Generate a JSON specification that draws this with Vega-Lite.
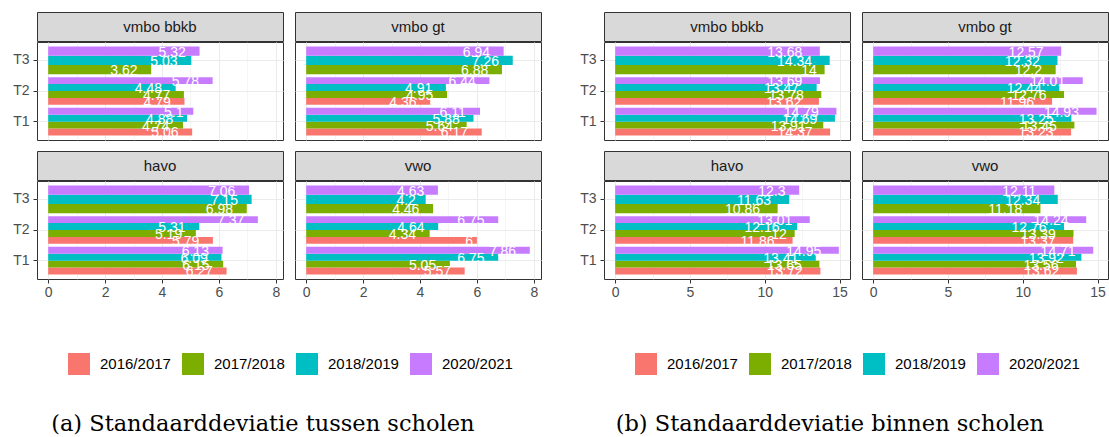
{
"$schema":"https://vega.github.io/schema/vega-lite/v6.json",
"padding":{"left":12,"top":11,"right":0,"bottom":0},
"background":"white",
"datasets":{
"a":[
{"s":"vmbo bbkb","t":"T1","yr":"2016/2017","v":5.06},{"s":"vmbo bbkb","t":"T1","yr":"2017/2018","v":4.74},{"s":"vmbo bbkb","t":"T1","yr":"2018/2019","v":4.88},{"s":"vmbo bbkb","t":"T1","yr":"2020/2021","v":5.1},
{"s":"vmbo bbkb","t":"T2","yr":"2016/2017","v":4.79},{"s":"vmbo bbkb","t":"T2","yr":"2017/2018","v":4.77},{"s":"vmbo bbkb","t":"T2","yr":"2018/2019","v":4.48},{"s":"vmbo bbkb","t":"T2","yr":"2020/2021","v":5.78},
{"s":"vmbo bbkb","t":"T3","yr":"2017/2018","v":3.62},{"s":"vmbo bbkb","t":"T3","yr":"2018/2019","v":5.03},{"s":"vmbo bbkb","t":"T3","yr":"2020/2021","v":5.32},
{"s":"vmbo gt","t":"T1","yr":"2016/2017","v":6.17},{"s":"vmbo gt","t":"T1","yr":"2017/2018","v":5.64},{"s":"vmbo gt","t":"T1","yr":"2018/2019","v":5.88},{"s":"vmbo gt","t":"T1","yr":"2020/2021","v":6.11},
{"s":"vmbo gt","t":"T2","yr":"2016/2017","v":4.36},{"s":"vmbo gt","t":"T2","yr":"2017/2018","v":4.95},{"s":"vmbo gt","t":"T2","yr":"2018/2019","v":4.91},{"s":"vmbo gt","t":"T2","yr":"2020/2021","v":6.44},
{"s":"vmbo gt","t":"T3","yr":"2017/2018","v":6.88},{"s":"vmbo gt","t":"T3","yr":"2018/2019","v":7.26},{"s":"vmbo gt","t":"T3","yr":"2020/2021","v":6.94},
{"s":"havo","t":"T1","yr":"2016/2017","v":6.27},{"s":"havo","t":"T1","yr":"2017/2018","v":6.15},{"s":"havo","t":"T1","yr":"2018/2019","v":6.09},{"s":"havo","t":"T1","yr":"2020/2021","v":6.13},
{"s":"havo","t":"T2","yr":"2016/2017","v":5.79},{"s":"havo","t":"T2","yr":"2017/2018","v":5.19},{"s":"havo","t":"T2","yr":"2018/2019","v":5.31},{"s":"havo","t":"T2","yr":"2020/2021","v":7.37},
{"s":"havo","t":"T3","yr":"2017/2018","v":6.98},{"s":"havo","t":"T3","yr":"2018/2019","v":7.15},{"s":"havo","t":"T3","yr":"2020/2021","v":7.06},
{"s":"vwo","t":"T1","yr":"2016/2017","v":5.57},{"s":"vwo","t":"T1","yr":"2017/2018","v":5.05},{"s":"vwo","t":"T1","yr":"2018/2019","v":6.75},{"s":"vwo","t":"T1","yr":"2020/2021","v":7.86},
{"s":"vwo","t":"T2","yr":"2016/2017","v":6},{"s":"vwo","t":"T2","yr":"2017/2018","v":4.34},{"s":"vwo","t":"T2","yr":"2018/2019","v":4.64},{"s":"vwo","t":"T2","yr":"2020/2021","v":6.75},
{"s":"vwo","t":"T3","yr":"2017/2018","v":4.46},{"s":"vwo","t":"T3","yr":"2018/2019","v":4.2},{"s":"vwo","t":"T3","yr":"2020/2021","v":4.63}
],
"b":[
{"s":"vmbo bbkb","t":"T1","yr":"2016/2017","v":14.37},{"s":"vmbo bbkb","t":"T1","yr":"2017/2018","v":13.91},{"s":"vmbo bbkb","t":"T1","yr":"2018/2019","v":14.69},{"s":"vmbo bbkb","t":"T1","yr":"2020/2021","v":14.79},
{"s":"vmbo bbkb","t":"T2","yr":"2016/2017","v":13.62},{"s":"vmbo bbkb","t":"T2","yr":"2017/2018","v":13.78},{"s":"vmbo bbkb","t":"T2","yr":"2018/2019","v":13.47},{"s":"vmbo bbkb","t":"T2","yr":"2020/2021","v":13.69},
{"s":"vmbo bbkb","t":"T3","yr":"2017/2018","v":14},{"s":"vmbo bbkb","t":"T3","yr":"2018/2019","v":14.34},{"s":"vmbo bbkb","t":"T3","yr":"2020/2021","v":13.68},
{"s":"vmbo gt","t":"T1","yr":"2016/2017","v":13.23},{"s":"vmbo gt","t":"T1","yr":"2017/2018","v":13.45},{"s":"vmbo gt","t":"T1","yr":"2018/2019","v":13.25},{"s":"vmbo gt","t":"T1","yr":"2020/2021","v":14.93},
{"s":"vmbo gt","t":"T2","yr":"2016/2017","v":11.96},{"s":"vmbo gt","t":"T2","yr":"2017/2018","v":12.76},{"s":"vmbo gt","t":"T2","yr":"2018/2019","v":12.44},{"s":"vmbo gt","t":"T2","yr":"2020/2021","v":14.01},
{"s":"vmbo gt","t":"T3","yr":"2017/2018","v":12.2},{"s":"vmbo gt","t":"T3","yr":"2018/2019","v":12.32},{"s":"vmbo gt","t":"T3","yr":"2020/2021","v":12.57},
{"s":"havo","t":"T1","yr":"2016/2017","v":13.72},{"s":"havo","t":"T1","yr":"2017/2018","v":13.65},{"s":"havo","t":"T1","yr":"2018/2019","v":13.41},{"s":"havo","t":"T1","yr":"2020/2021","v":14.95},
{"s":"havo","t":"T2","yr":"2016/2017","v":11.86},{"s":"havo","t":"T2","yr":"2017/2018","v":12},{"s":"havo","t":"T2","yr":"2018/2019","v":12.16},{"s":"havo","t":"T2","yr":"2020/2021","v":13.01},
{"s":"havo","t":"T3","yr":"2017/2018","v":10.86},{"s":"havo","t":"T3","yr":"2018/2019","v":11.63},{"s":"havo","t":"T3","yr":"2020/2021","v":12.3},
{"s":"vwo","t":"T1","yr":"2016/2017","v":13.62},{"s":"vwo","t":"T1","yr":"2017/2018","v":13.56},{"s":"vwo","t":"T1","yr":"2018/2019","v":13.92},{"s":"vwo","t":"T1","yr":"2020/2021","v":14.71},
{"s":"vwo","t":"T2","yr":"2016/2017","v":13.37},{"s":"vwo","t":"T2","yr":"2017/2018","v":13.39},{"s":"vwo","t":"T2","yr":"2018/2019","v":12.76},{"s":"vwo","t":"T2","yr":"2020/2021","v":14.24},
{"s":"vwo","t":"T3","yr":"2017/2018","v":11.18},{"s":"vwo","t":"T3","yr":"2018/2019","v":12.34},{"s":"vwo","t":"T3","yr":"2020/2021","v":12.11}
]
},
"hconcat":[
{"title":{"text":"(a) Standaarddeviatie tussen scholen","orient":"bottom","anchor":"middle","font":"DejaVu Serif","fontSize":22.5,"fontWeight":"normal","color":"black","offset":38,"dx":-14},
 "spacing":9,
 "vconcat":[
  {"spacing":10,"hconcat":[
   {"spacing":-1,"vconcat":[
    {"data":{"values":[{"s":"vmbo bbkb"}]},"width":246,"height":29,"view":{"fill":"#d9d9d9","stroke":"#333333"},"mark":{"type":"text","font":"Liberation Sans","fontSize":15,"color":"#1a1a1a"},"encoding":{"text":{"field":"s","type":"nominal"}}},
    {"data":{"name":"a"},"transform":[{"filter":"datum.s == 'vmbo bbkb'"}],"width":246,"height":98,"view":{"stroke":"#333333"},
     "encoding":{
      "y":{"field":"t","type":"nominal","title":null,"scale":{"domain":["T3","T2","T1"],"paddingInner":0.1,"paddingOuter":0.15},"axis":{"grid":true,"domain":false,"bandPosition":0.5,"labelPadding":4}},
      "x":{"field":"v","type":"quantitative","title":null,"scale":{"domain":[-0.393,8.253],"nice":false,"zero":false},"axis":{"values":[0,1,2,3,4,5,6,7,8],"labels":false,"ticks":false,"grid":true,"domain":false,"gridWidth":{"condition":{"test":"datum.value % 2 != 0","value":0.5},"value":1}}},
      "color":{"field":"yr","type":"nominal","title":null,"scale":{"domain":["2016/2017","2017/2018","2018/2019","2020/2021"],"range":["#F8766D","#7CAE00","#00BFC4","#C77CFF"]}}},
     "layer":[
      {"transform":[{"filter":"datum.t != 'T3'"}],"encoding":{"yOffset":{"field":"yr","type":"nominal","scale":{"domain":["2020/2021","2018/2019","2017/2018","2016/2017"],"paddingInner":0,"paddingOuter":0}}},
       "layer":[{"mark":"bar","encoding":{"x2":{"datum":0}}},{"mark":{"type":"text","align":"center","baseline":"middle","dy":1.5,"font":"Liberation Sans","fontSize":14,"clip":true,"dx":{"expr":"-(length(toString(datum.v)) - (indexof(toString(datum.v), '.') >= 0 ? 0.5 : 0)) * 7.8"}},"encoding":{"text":{"field":"v","type":"nominal"},"color":{"value":"white"}}}]},
      {"transform":[{"filter":"datum.t == 'T3'"}],"encoding":{"yOffset":{"field":"yr","type":"nominal","scale":{"domain":["2020/2021","2018/2019","2017/2018"],"paddingInner":0,"paddingOuter":0}}},
       "layer":[{"mark":"bar","encoding":{"x2":{"datum":0}}},{"mark":{"type":"text","align":"center","baseline":"middle","dy":1.5,"font":"Liberation Sans","fontSize":14,"clip":true,"dx":{"expr":"-(length(toString(datum.v)) - (indexof(toString(datum.v), '.') >= 0 ? 0.5 : 0)) * 7.8"}},"encoding":{"text":{"field":"v","type":"nominal"},"color":{"value":"white"}}}]}
     ],
     "resolve":{"scale":{"yOffset":"independent"}}}
   ]},
   {"spacing":-1,"vconcat":[
    {"data":{"values":[{"s":"vmbo gt"}]},"width":246,"height":29,"view":{"fill":"#d9d9d9","stroke":"#333333"},"mark":{"type":"text","font":"Liberation Sans","fontSize":15,"color":"#1a1a1a"},"encoding":{"text":{"field":"s","type":"nominal"}}},
    {"data":{"name":"a"},"transform":[{"filter":"datum.s == 'vmbo gt'"}],"width":246,"height":98,"view":{"stroke":"#333333"},
     "encoding":{
      "y":{"field":"t","type":"nominal","title":null,"scale":{"domain":["T3","T2","T1"],"paddingInner":0.1,"paddingOuter":0.15},"axis":{"grid":true,"domain":false,"bandPosition":0.5,"labels":false,"ticks":false}},
      "x":{"field":"v","type":"quantitative","title":null,"scale":{"domain":[-0.393,8.253],"nice":false,"zero":false},"axis":{"values":[0,1,2,3,4,5,6,7,8],"labels":false,"ticks":false,"grid":true,"domain":false,"gridWidth":{"condition":{"test":"datum.value % 2 != 0","value":0.5},"value":1}}},
      "color":{"field":"yr","type":"nominal","title":null,"scale":{"domain":["2016/2017","2017/2018","2018/2019","2020/2021"],"range":["#F8766D","#7CAE00","#00BFC4","#C77CFF"]}}},
     "layer":[
      {"transform":[{"filter":"datum.t != 'T3'"}],"encoding":{"yOffset":{"field":"yr","type":"nominal","scale":{"domain":["2020/2021","2018/2019","2017/2018","2016/2017"],"paddingInner":0,"paddingOuter":0}}},
       "layer":[{"mark":"bar","encoding":{"x2":{"datum":0}}},{"mark":{"type":"text","align":"center","baseline":"middle","dy":1.5,"font":"Liberation Sans","fontSize":14,"clip":true,"dx":{"expr":"-(length(toString(datum.v)) - (indexof(toString(datum.v), '.') >= 0 ? 0.5 : 0)) * 7.8"}},"encoding":{"text":{"field":"v","type":"nominal"},"color":{"value":"white"}}}]},
      {"transform":[{"filter":"datum.t == 'T3'"}],"encoding":{"yOffset":{"field":"yr","type":"nominal","scale":{"domain":["2020/2021","2018/2019","2017/2018"],"paddingInner":0,"paddingOuter":0}}},
       "layer":[{"mark":"bar","encoding":{"x2":{"datum":0}}},{"mark":{"type":"text","align":"center","baseline":"middle","dy":1.5,"font":"Liberation Sans","fontSize":14,"clip":true,"dx":{"expr":"-(length(toString(datum.v)) - (indexof(toString(datum.v), '.') >= 0 ? 0.5 : 0)) * 7.8"}},"encoding":{"text":{"field":"v","type":"nominal"},"color":{"value":"white"}}}]}
     ],
     "resolve":{"scale":{"yOffset":"independent"}}}
   ]}
  ]},
  {"spacing":10,"hconcat":[
   {"spacing":-1,"vconcat":[
    {"data":{"values":[{"s":"havo"}]},"width":246,"height":29,"view":{"fill":"#d9d9d9","stroke":"#333333"},"mark":{"type":"text","font":"Liberation Sans","fontSize":15,"color":"#1a1a1a"},"encoding":{"text":{"field":"s","type":"nominal"}}},
    {"data":{"name":"a"},"transform":[{"filter":"datum.s == 'havo'"}],"width":246,"height":98,"view":{"stroke":"#333333"},
     "encoding":{
      "y":{"field":"t","type":"nominal","title":null,"scale":{"domain":["T3","T2","T1"],"paddingInner":0.1,"paddingOuter":0.15},"axis":{"grid":true,"domain":false,"bandPosition":0.5,"labelPadding":4}},
      "x":{"field":"v","type":"quantitative","title":null,"scale":{"domain":[-0.393,8.253],"nice":false,"zero":false},"axis":{"values":[0,1,2,3,4,5,6,7,8],"labelExpr":"datum.value % 2 == 0 ? datum.label : ''","tickOpacity":{"condition":{"test":"datum.value % 2 != 0","value":0},"value":1},"labelFlush":false,"labelPadding":2,"grid":true,"domain":false,"gridWidth":{"condition":{"test":"datum.value % 2 != 0","value":0.5},"value":1}}},
      "color":{"field":"yr","type":"nominal","title":null,"scale":{"domain":["2016/2017","2017/2018","2018/2019","2020/2021"],"range":["#F8766D","#7CAE00","#00BFC4","#C77CFF"]}}},
     "layer":[
      {"transform":[{"filter":"datum.t != 'T3'"}],"encoding":{"yOffset":{"field":"yr","type":"nominal","scale":{"domain":["2020/2021","2018/2019","2017/2018","2016/2017"],"paddingInner":0,"paddingOuter":0}}},
       "layer":[{"mark":"bar","encoding":{"x2":{"datum":0}}},{"mark":{"type":"text","align":"center","baseline":"middle","dy":1.5,"font":"Liberation Sans","fontSize":14,"clip":true,"dx":{"expr":"-(length(toString(datum.v)) - (indexof(toString(datum.v), '.') >= 0 ? 0.5 : 0)) * 7.8"}},"encoding":{"text":{"field":"v","type":"nominal"},"color":{"value":"white"}}}]},
      {"transform":[{"filter":"datum.t == 'T3'"}],"encoding":{"yOffset":{"field":"yr","type":"nominal","scale":{"domain":["2020/2021","2018/2019","2017/2018"],"paddingInner":0,"paddingOuter":0}}},
       "layer":[{"mark":"bar","encoding":{"x2":{"datum":0}}},{"mark":{"type":"text","align":"center","baseline":"middle","dy":1.5,"font":"Liberation Sans","fontSize":14,"clip":true,"dx":{"expr":"-(length(toString(datum.v)) - (indexof(toString(datum.v), '.') >= 0 ? 0.5 : 0)) * 7.8"}},"encoding":{"text":{"field":"v","type":"nominal"},"color":{"value":"white"}}}]}
     ],
     "resolve":{"scale":{"yOffset":"independent"}}}
   ]},
   {"spacing":-1,"vconcat":[
    {"data":{"values":[{"s":"vwo"}]},"width":246,"height":29,"view":{"fill":"#d9d9d9","stroke":"#333333"},"mark":{"type":"text","font":"Liberation Sans","fontSize":15,"color":"#1a1a1a"},"encoding":{"text":{"field":"s","type":"nominal"}}},
    {"data":{"name":"a"},"transform":[{"filter":"datum.s == 'vwo'"}],"width":246,"height":98,"view":{"stroke":"#333333"},
     "encoding":{
      "y":{"field":"t","type":"nominal","title":null,"scale":{"domain":["T3","T2","T1"],"paddingInner":0.1,"paddingOuter":0.15},"axis":{"grid":true,"domain":false,"bandPosition":0.5,"labels":false,"ticks":false}},
      "x":{"field":"v","type":"quantitative","title":null,"scale":{"domain":[-0.393,8.253],"nice":false,"zero":false},"axis":{"values":[0,1,2,3,4,5,6,7,8],"labelExpr":"datum.value % 2 == 0 ? datum.label : ''","tickOpacity":{"condition":{"test":"datum.value % 2 != 0","value":0},"value":1},"labelFlush":false,"labelPadding":2,"grid":true,"domain":false,"gridWidth":{"condition":{"test":"datum.value % 2 != 0","value":0.5},"value":1}}},
      "color":{"field":"yr","type":"nominal","title":null,"scale":{"domain":["2016/2017","2017/2018","2018/2019","2020/2021"],"range":["#F8766D","#7CAE00","#00BFC4","#C77CFF"]}}},
     "layer":[
      {"transform":[{"filter":"datum.t != 'T3'"}],"encoding":{"yOffset":{"field":"yr","type":"nominal","scale":{"domain":["2020/2021","2018/2019","2017/2018","2016/2017"],"paddingInner":0,"paddingOuter":0}}},
       "layer":[{"mark":"bar","encoding":{"x2":{"datum":0}}},{"mark":{"type":"text","align":"center","baseline":"middle","dy":1.5,"font":"Liberation Sans","fontSize":14,"clip":true,"dx":{"expr":"-(length(toString(datum.v)) - (indexof(toString(datum.v), '.') >= 0 ? 0.5 : 0)) * 7.8"}},"encoding":{"text":{"field":"v","type":"nominal"},"color":{"value":"white"}}}]},
      {"transform":[{"filter":"datum.t == 'T3'"}],"encoding":{"yOffset":{"field":"yr","type":"nominal","scale":{"domain":["2020/2021","2018/2019","2017/2018"],"paddingInner":0,"paddingOuter":0}}},
       "layer":[{"mark":"bar","encoding":{"x2":{"datum":0}}},{"mark":{"type":"text","align":"center","baseline":"middle","dy":1.5,"font":"Liberation Sans","fontSize":14,"clip":true,"dx":{"expr":"-(length(toString(datum.v)) - (indexof(toString(datum.v), '.') >= 0 ? 0.5 : 0)) * 7.8"}},"encoding":{"text":{"field":"v","type":"nominal"},"color":{"value":"white"}}}]}
     ],
     "resolve":{"scale":{"yOffset":"independent"}}}
   ]}
  ]}
 ]},
{"title":{"text":"(b) Standaarddeviatie binnen scholen","orient":"bottom","anchor":"middle","font":"DejaVu Serif","fontSize":22.5,"fontWeight":"normal","color":"black","offset":38,"dx":-14},
 "spacing":9,
 "vconcat":[
  {"spacing":10,"hconcat":[
   {"spacing":-1,"vconcat":[
    {"data":{"values":[{"s":"vmbo bbkb"}]},"width":246,"height":29,"view":{"fill":"#d9d9d9","stroke":"#333333"},"mark":{"type":"text","font":"Liberation Sans","fontSize":15,"color":"#1a1a1a"},"encoding":{"text":{"field":"s","type":"nominal"}}},
    {"data":{"name":"b"},"transform":[{"filter":"datum.s == 'vmbo bbkb'"}],"width":246,"height":98,"view":{"stroke":"#333333"},
     "encoding":{
      "y":{"field":"t","type":"nominal","title":null,"scale":{"domain":["T3","T2","T1"],"paddingInner":0.1,"paddingOuter":0.15},"axis":{"grid":true,"domain":false,"bandPosition":0.5,"labelPadding":4}},
      "x":{"field":"v","type":"quantitative","title":null,"scale":{"domain":[-0.7475,15.6975],"nice":false,"zero":false},"axis":{"values":[0,2.5,5,7.5,10,12.5,15],"labels":false,"ticks":false,"grid":true,"domain":false,"gridWidth":{"condition":{"test":"datum.value % 5 != 0","value":0.5},"value":1}}},
      "color":{"field":"yr","type":"nominal","title":null,"scale":{"domain":["2016/2017","2017/2018","2018/2019","2020/2021"],"range":["#F8766D","#7CAE00","#00BFC4","#C77CFF"]}}},
     "layer":[
      {"transform":[{"filter":"datum.t != 'T3'"}],"encoding":{"yOffset":{"field":"yr","type":"nominal","scale":{"domain":["2020/2021","2018/2019","2017/2018","2016/2017"],"paddingInner":0,"paddingOuter":0}}},
       "layer":[{"mark":"bar","encoding":{"x2":{"datum":0}}},{"mark":{"type":"text","align":"center","baseline":"middle","dy":1.5,"font":"Liberation Sans","fontSize":14,"clip":true,"dx":{"expr":"-(length(toString(datum.v)) - (indexof(toString(datum.v), '.') >= 0 ? 0.5 : 0)) * 7.8"}},"encoding":{"text":{"field":"v","type":"nominal"},"color":{"value":"white"}}}]},
      {"transform":[{"filter":"datum.t == 'T3'"}],"encoding":{"yOffset":{"field":"yr","type":"nominal","scale":{"domain":["2020/2021","2018/2019","2017/2018"],"paddingInner":0,"paddingOuter":0}}},
       "layer":[{"mark":"bar","encoding":{"x2":{"datum":0}}},{"mark":{"type":"text","align":"center","baseline":"middle","dy":1.5,"font":"Liberation Sans","fontSize":14,"clip":true,"dx":{"expr":"-(length(toString(datum.v)) - (indexof(toString(datum.v), '.') >= 0 ? 0.5 : 0)) * 7.8"}},"encoding":{"text":{"field":"v","type":"nominal"},"color":{"value":"white"}}}]}
     ],
     "resolve":{"scale":{"yOffset":"independent"}}}
   ]},
   {"spacing":-1,"vconcat":[
    {"data":{"values":[{"s":"vmbo gt"}]},"width":246,"height":29,"view":{"fill":"#d9d9d9","stroke":"#333333"},"mark":{"type":"text","font":"Liberation Sans","fontSize":15,"color":"#1a1a1a"},"encoding":{"text":{"field":"s","type":"nominal"}}},
    {"data":{"name":"b"},"transform":[{"filter":"datum.s == 'vmbo gt'"}],"width":246,"height":98,"view":{"stroke":"#333333"},
     "encoding":{
      "y":{"field":"t","type":"nominal","title":null,"scale":{"domain":["T3","T2","T1"],"paddingInner":0.1,"paddingOuter":0.15},"axis":{"grid":true,"domain":false,"bandPosition":0.5,"labels":false,"ticks":false}},
      "x":{"field":"v","type":"quantitative","title":null,"scale":{"domain":[-0.7475,15.6975],"nice":false,"zero":false},"axis":{"values":[0,2.5,5,7.5,10,12.5,15],"labels":false,"ticks":false,"grid":true,"domain":false,"gridWidth":{"condition":{"test":"datum.value % 5 != 0","value":0.5},"value":1}}},
      "color":{"field":"yr","type":"nominal","title":null,"scale":{"domain":["2016/2017","2017/2018","2018/2019","2020/2021"],"range":["#F8766D","#7CAE00","#00BFC4","#C77CFF"]}}},
     "layer":[
      {"transform":[{"filter":"datum.t != 'T3'"}],"encoding":{"yOffset":{"field":"yr","type":"nominal","scale":{"domain":["2020/2021","2018/2019","2017/2018","2016/2017"],"paddingInner":0,"paddingOuter":0}}},
       "layer":[{"mark":"bar","encoding":{"x2":{"datum":0}}},{"mark":{"type":"text","align":"center","baseline":"middle","dy":1.5,"font":"Liberation Sans","fontSize":14,"clip":true,"dx":{"expr":"-(length(toString(datum.v)) - (indexof(toString(datum.v), '.') >= 0 ? 0.5 : 0)) * 7.8"}},"encoding":{"text":{"field":"v","type":"nominal"},"color":{"value":"white"}}}]},
      {"transform":[{"filter":"datum.t == 'T3'"}],"encoding":{"yOffset":{"field":"yr","type":"nominal","scale":{"domain":["2020/2021","2018/2019","2017/2018"],"paddingInner":0,"paddingOuter":0}}},
       "layer":[{"mark":"bar","encoding":{"x2":{"datum":0}}},{"mark":{"type":"text","align":"center","baseline":"middle","dy":1.5,"font":"Liberation Sans","fontSize":14,"clip":true,"dx":{"expr":"-(length(toString(datum.v)) - (indexof(toString(datum.v), '.') >= 0 ? 0.5 : 0)) * 7.8"}},"encoding":{"text":{"field":"v","type":"nominal"},"color":{"value":"white"}}}]}
     ],
     "resolve":{"scale":{"yOffset":"independent"}}}
   ]}
  ]},
  {"spacing":10,"hconcat":[
   {"spacing":-1,"vconcat":[
    {"data":{"values":[{"s":"havo"}]},"width":246,"height":29,"view":{"fill":"#d9d9d9","stroke":"#333333"},"mark":{"type":"text","font":"Liberation Sans","fontSize":15,"color":"#1a1a1a"},"encoding":{"text":{"field":"s","type":"nominal"}}},
    {"data":{"name":"b"},"transform":[{"filter":"datum.s == 'havo'"}],"width":246,"height":98,"view":{"stroke":"#333333"},
     "encoding":{
      "y":{"field":"t","type":"nominal","title":null,"scale":{"domain":["T3","T2","T1"],"paddingInner":0.1,"paddingOuter":0.15},"axis":{"grid":true,"domain":false,"bandPosition":0.5,"labelPadding":4}},
      "x":{"field":"v","type":"quantitative","title":null,"scale":{"domain":[-0.7475,15.6975],"nice":false,"zero":false},"axis":{"values":[0,2.5,5,7.5,10,12.5,15],"labelExpr":"datum.value % 5 == 0 ? datum.label : ''","tickOpacity":{"condition":{"test":"datum.value % 5 != 0","value":0},"value":1},"labelFlush":false,"labelPadding":2,"grid":true,"domain":false,"gridWidth":{"condition":{"test":"datum.value % 5 != 0","value":0.5},"value":1}}},
      "color":{"field":"yr","type":"nominal","title":null,"scale":{"domain":["2016/2017","2017/2018","2018/2019","2020/2021"],"range":["#F8766D","#7CAE00","#00BFC4","#C77CFF"]}}},
     "layer":[
      {"transform":[{"filter":"datum.t != 'T3'"}],"encoding":{"yOffset":{"field":"yr","type":"nominal","scale":{"domain":["2020/2021","2018/2019","2017/2018","2016/2017"],"paddingInner":0,"paddingOuter":0}}},
       "layer":[{"mark":"bar","encoding":{"x2":{"datum":0}}},{"mark":{"type":"text","align":"center","baseline":"middle","dy":1.5,"font":"Liberation Sans","fontSize":14,"clip":true,"dx":{"expr":"-(length(toString(datum.v)) - (indexof(toString(datum.v), '.') >= 0 ? 0.5 : 0)) * 7.8"}},"encoding":{"text":{"field":"v","type":"nominal"},"color":{"value":"white"}}}]},
      {"transform":[{"filter":"datum.t == 'T3'"}],"encoding":{"yOffset":{"field":"yr","type":"nominal","scale":{"domain":["2020/2021","2018/2019","2017/2018"],"paddingInner":0,"paddingOuter":0}}},
       "layer":[{"mark":"bar","encoding":{"x2":{"datum":0}}},{"mark":{"type":"text","align":"center","baseline":"middle","dy":1.5,"font":"Liberation Sans","fontSize":14,"clip":true,"dx":{"expr":"-(length(toString(datum.v)) - (indexof(toString(datum.v), '.') >= 0 ? 0.5 : 0)) * 7.8"}},"encoding":{"text":{"field":"v","type":"nominal"},"color":{"value":"white"}}}]}
     ],
     "resolve":{"scale":{"yOffset":"independent"}}}
   ]},
   {"spacing":-1,"vconcat":[
    {"data":{"values":[{"s":"vwo"}]},"width":246,"height":29,"view":{"fill":"#d9d9d9","stroke":"#333333"},"mark":{"type":"text","font":"Liberation Sans","fontSize":15,"color":"#1a1a1a"},"encoding":{"text":{"field":"s","type":"nominal"}}},
    {"data":{"name":"b"},"transform":[{"filter":"datum.s == 'vwo'"}],"width":246,"height":98,"view":{"stroke":"#333333"},
     "encoding":{
      "y":{"field":"t","type":"nominal","title":null,"scale":{"domain":["T3","T2","T1"],"paddingInner":0.1,"paddingOuter":0.15},"axis":{"grid":true,"domain":false,"bandPosition":0.5,"labels":false,"ticks":false}},
      "x":{"field":"v","type":"quantitative","title":null,"scale":{"domain":[-0.7475,15.6975],"nice":false,"zero":false},"axis":{"values":[0,2.5,5,7.5,10,12.5,15],"labelExpr":"datum.value % 5 == 0 ? datum.label : ''","tickOpacity":{"condition":{"test":"datum.value % 5 != 0","value":0},"value":1},"labelFlush":false,"labelPadding":2,"grid":true,"domain":false,"gridWidth":{"condition":{"test":"datum.value % 5 != 0","value":0.5},"value":1}}},
      "color":{"field":"yr","type":"nominal","title":null,"scale":{"domain":["2016/2017","2017/2018","2018/2019","2020/2021"],"range":["#F8766D","#7CAE00","#00BFC4","#C77CFF"]}}},
     "layer":[
      {"transform":[{"filter":"datum.t != 'T3'"}],"encoding":{"yOffset":{"field":"yr","type":"nominal","scale":{"domain":["2020/2021","2018/2019","2017/2018","2016/2017"],"paddingInner":0,"paddingOuter":0}}},
       "layer":[{"mark":"bar","encoding":{"x2":{"datum":0}}},{"mark":{"type":"text","align":"center","baseline":"middle","dy":1.5,"font":"Liberation Sans","fontSize":14,"clip":true,"dx":{"expr":"-(length(toString(datum.v)) - (indexof(toString(datum.v), '.') >= 0 ? 0.5 : 0)) * 7.8"}},"encoding":{"text":{"field":"v","type":"nominal"},"color":{"value":"white"}}}]},
      {"transform":[{"filter":"datum.t == 'T3'"}],"encoding":{"yOffset":{"field":"yr","type":"nominal","scale":{"domain":["2020/2021","2018/2019","2017/2018"],"paddingInner":0,"paddingOuter":0}}},
       "layer":[{"mark":"bar","encoding":{"x2":{"datum":0}}},{"mark":{"type":"text","align":"center","baseline":"middle","dy":1.5,"font":"Liberation Sans","fontSize":14,"clip":true,"dx":{"expr":"-(length(toString(datum.v)) - (indexof(toString(datum.v), '.') >= 0 ? 0.5 : 0)) * 7.8"}},"encoding":{"text":{"field":"v","type":"nominal"},"color":{"value":"white"}}}]}
     ],
     "resolve":{"scale":{"yOffset":"independent"}}}
   ]}
  ]}
 ]}
],
"spacing":37,
"resolve":{"scale":{"color":"independent"}},
"config":{
 "axis":{"labelFont":"Liberation Sans","labelFontSize":14,"labelColor":"#4d4d4d","tickColor":"#333333","tickSize":4,"tickWidth":1,"gridColor":"#ebebeb","domain":false},
 "legend":{"orient":"none","legendX":31,"legendY":341,"direction":"horizontal","symbolType":"square","symbolSize":484,"symbolStrokeWidth":0,"symbolOpacity":1,"labelFont":"Liberation Sans","labelFontSize":15,"labelColor":"black","labelOffset":10,"columnPadding":11,"padding":0},
 "title":{"font":"DejaVu Serif"}
}
}
